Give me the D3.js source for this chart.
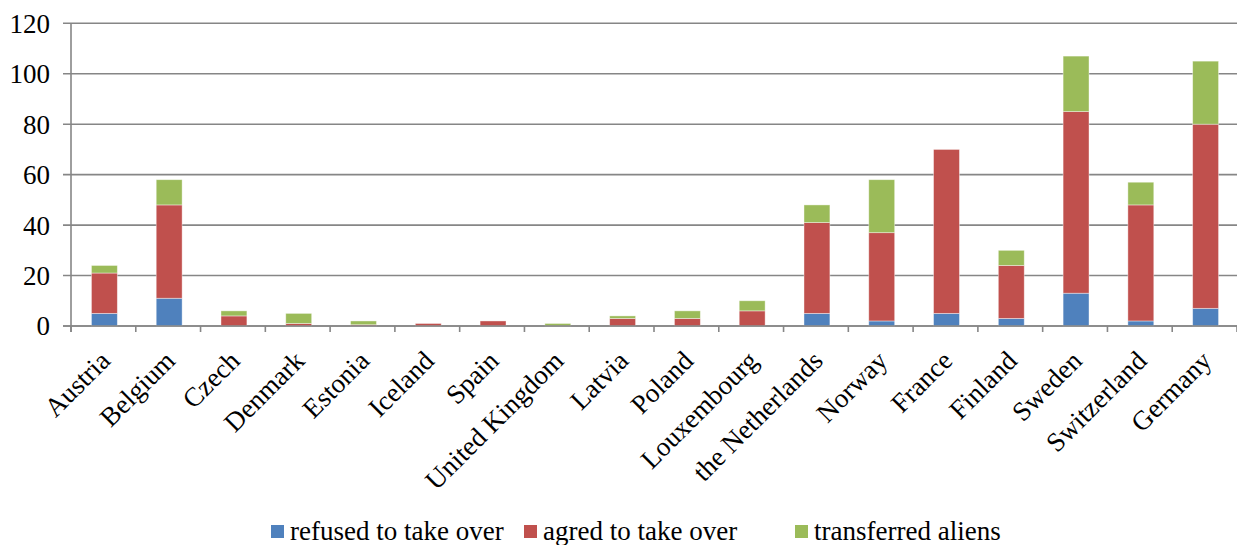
<!DOCTYPE html>
<html><head><meta charset="utf-8">
<script src="https://cdn.jsdelivr.net/npm/d3@7"></script>
</head><body style="margin:0">
<script>
const categories = ["Austria","Belgium","Czech","Denmark","Estonia","Iceland","Spain","United Kingdom","Latvia","Poland","Louxembourg","the Netherlands","Norway","France","Finland","Sweden","Switzerland","Germany"];
const seriesNames = ["refused to take over","agred to take over","transferred aliens"];
const refused     = [5,11,0,0,0,0,0,0,0,0,0,5,2,5,3,13,2,7];
const agreed      = [16,37,4,1,0.5,1,2,0,3,3,6,36,35,65,21,72,46,73];
const transferred = [3,10,2,4,1.5,0,0,1,1,3,4,7,21,0,6,22,9,25];
const yTicks = [0,20,40,60,80,100,120];
const colors = ["#4F81BD","#C0504D","#9BBB59"];

const W = 1237, H = 545;
const m = {left:71, right:0, top:23.3};
const svg = d3.select("body").append("svg").attr("width",W).attr("height",H)
  .style("font-family","Liberation Serif");

const x = d3.scaleBand().domain(categories).range([m.left, W - m.right]).paddingInner(0.6).paddingOuter(0.3);
const y = d3.scaleLinear().domain([0,120]).range([326, m.top]);

// gridlines
svg.append("g").selectAll("line").data(yTicks).join("line")
  .attr("x1", m.left - 8).attr("x2", W).attr("y1", d=>y(d)).attr("y2", d=>y(d))
  .attr("stroke","#868686").attr("stroke-width",1.6);

// y axis line
svg.append("line").attr("x1",m.left).attr("x2",m.left).attr("y1",y(120)).attr("y2",y(0)+6)
  .attr("stroke","#868686").attr("stroke-width",1.6);

// y labels
svg.append("g").selectAll("text").data(yTicks).join("text")
  .attr("x", 50).attr("y", d=>y(d)).attr("dy","0.35em").attr("text-anchor","end")
  .attr("font-size", 27).style("font-family", "Liberation Serif").text(d=>d);

// stacked data
const rows = categories.map((c,i)=>({cat:c, s0:refused[i], s1:agreed[i], s2:transferred[i]}));
const stack = d3.stack().keys(["s0","s1","s2"])(rows);
svg.append("g").selectAll("g").data(stack).join("g").attr("fill",(d,i)=>colors[i])
  .selectAll("rect").data(d=>d).join("rect")
  .attr("x", d=>x(d.data.cat)+1).attr("width", x.bandwidth())
  .attr("y", d=>y(d[1])).attr("height", d=>Math.max(0, y(d[0]) - y(d[1])))
  .attr("stroke","rgba(255,255,255,0.5)").attr("stroke-width",0.8);

// x axis band ticks
const bounds = d3.range(categories.length+1).map(i=>m.left + i*(W - m.left)/categories.length);
svg.append("g").selectAll("line").data(bounds).join("line")
  .attr("x1",d=>d).attr("x2",d=>d).attr("y1",y(0)).attr("y2",y(0)+6)
  .attr("stroke","#868686").attr("stroke-width",1.6);
svg.append("line").attr("x1",m.left-8).attr("x2",W).attr("y1",y(0)).attr("y2",y(0))
  .attr("stroke","#868686").attr("stroke-width",1.6);

// x labels
svg.append("g").selectAll("text").data(categories).join("text")
  .attr("transform", d=>`translate(${x(d)+x.bandwidth()/2-5},${y(0)+23}) rotate(-45)`)
  .attr("text-anchor","end").attr("dy","0.7em")
  .attr("font-size", 27).style("font-family", "Liberation Serif").text(d=>d);

// legend
const legX = [271, 524, 795];
const leg = svg.append("g").selectAll("g").data(seriesNames).join("g")
  .attr("transform",(d,i)=>`translate(${legX[i]},525)`);
leg.append("rect").attr("width",13).attr("height",13).attr("fill",(d,i)=>colors[i]);
leg.append("text").attr("x",19).attr("y",15)
  .attr("font-size", 27).style("font-family", "Liberation Serif").text(d=>d);
</script>
</body></html>
